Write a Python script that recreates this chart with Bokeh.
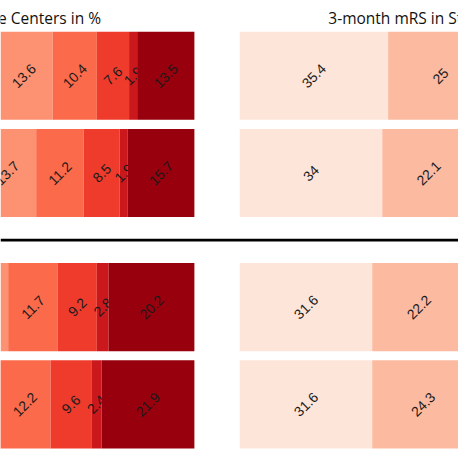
import numpy as np
from bokeh.plotting import figure
from bokeh.models import ColumnDataSource, Range1d, Span, Label
from bokeh.embed import file_html
from bokeh.resources import INLINE
from bokeh.core.properties import value

# ---------------- data ----------------
groups = ["Cohort 1 - A", "Cohort 1 - B", "Cohort 2 - A", "Cohort 2 - B"]

# Left panel: visible mRS categories (mRS 0-1 lie outside the crop)
left_cats = ["mRS 2", "mRS 3", "mRS 4", "mRS 5", "mRS 6"]
left_mrs2 = [13.6, 13.7, 12.9, 13.3]      # last two: not readable, estimated
left_mrs3 = [10.4, 11.2, 11.7, 12.2]
left_mrs4 = [7.6, 8.5, 9.2, 9.6]
left_mrs5 = [1.9, 1.9, 2.8, 2.4]
left_mrs6 = [13.5, 15.7, 20.2, 21.9]
left_mrs2_shown = [True, True, False, False]

# Right panel: visible mRS categories (mRS 2-6 lie outside the crop)
right_cats = ["mRS 0", "mRS 1"]
right_mrs0 = [35.4, 34.0, 31.6, 31.6]
right_mrs1 = [25.0, 22.1, 22.2, 24.3]

left_title = "e Centers in %"
right_title = "3-month mRS in St"

# ---------------- styling / layout ----------------
left_colors = ["#fc9272", "#fb6a4a", "#ef3b2c", "#cb181d", "#99000d"]
right_colors = ["#fee5d9", "#fcbba1"]

GROUP_GAP = 1.378
BAR_H = 0.905
ypos = np.array([0.0, 1.0, 1.0 + GROUP_GAP, 2.0 + GROUP_GAP])
sep_y = (ypos[1] + ypos[2]) / 2
W = H = 458

LABEL_FONT = value("Liberation Sans")
LABEL_SIZE = "14px"
LABEL_COLOR = "#1a1a1a"
TITLE_SIZE = "15.5px"
LABEL_ANGLE = np.pi / 4


def fmt(v):
    return f"{v:g}"


p = figure(width=W, height=H, x_range=Range1d(54.29, 162.26),
           y_range=Range1d(3.9346, -0.7749), output_backend="svg",
           toolbar_location=None, min_border=0,
           x_axis_location=None, y_axis_location=None)
p.extra_x_ranges = {"right": Range1d(-57.05, 52.18)}
p.grid.visible = False
p.outline_line_color = None
p.background_fill_color = "white"
p.border_fill_color = "white"
p.add_layout(Span(location=sep_y, dimension="width",
                  line_color="black", line_width=2.9))

# ---------------- left panel (stacked, ending at 100 %) ----------------
larr = np.array([left_mrs2, left_mrs3, left_mrs4, left_mrs5, left_mrs6])
from_here = np.cumsum(larr[::-1], axis=0)[::-1]
l_right = 100 - (from_here - larr)
l_left = l_right - larr
for k in range(larr.shape[0]):
    labels = [fmt(v) for v in larr[k]]
    if k == 0:
        labels = [t if s else "" for t, s in zip(labels, left_mrs2_shown)]
    src = ColumnDataSource(dict(y=ypos, left=l_left[k], right=l_right[k],
                                xc=(l_left[k] + l_right[k]) / 2, label=labels,
                                grp=groups))
    p.hbar(y="y", left="left", right="right", height=BAR_H, source=src,
           fill_color=left_colors[k], line_color=None)
    p.text(x="xc", y="y", text="label", source=src, angle=LABEL_ANGLE,
           text_align="center", text_baseline="middle",
           text_font=LABEL_FONT, text_font_size=LABEL_SIZE,
           text_color=LABEL_COLOR)
p.add_layout(Label(x=77.98, y=-0.593, text=left_title, text_align="right",
                   text_baseline="alphabetic", text_font="Open Sans",
                   text_font_size=TITLE_SIZE, text_color="#111111"))

# ---------------- right panel (stacked from 0 %) ----------------
rarr = np.array([right_mrs0, right_mrs1])
r_right = np.cumsum(rarr, axis=0)
r_left = r_right - rarr
for k in range(rarr.shape[0]):
    src = ColumnDataSource(dict(y=ypos, left=r_left[k], right=r_right[k],
                                xc=(r_left[k] + r_right[k]) / 2,
                                label=[fmt(v) for v in rarr[k]], grp=groups))
    p.hbar(y="y", left="left", right="right", height=BAR_H, source=src,
           fill_color=right_colors[k], line_color=None, x_range_name="right")
    p.text(x="xc", y="y", text="label", source=src, angle=LABEL_ANGLE,
           text_align="center", text_baseline="middle",
           text_font=LABEL_FONT, text_font_size=LABEL_SIZE,
           text_color=LABEL_COLOR, x_range_name="right")
p.add_layout(Label(x=21.13, y=-0.593, text=right_title, text_align="left",
                   text_baseline="alphabetic", text_font="Open Sans",
                   text_font_size=TITLE_SIZE, text_color="#111111",
                   x_range_name="right"))

open("out.html", "w").write(file_html(p, INLINE))
